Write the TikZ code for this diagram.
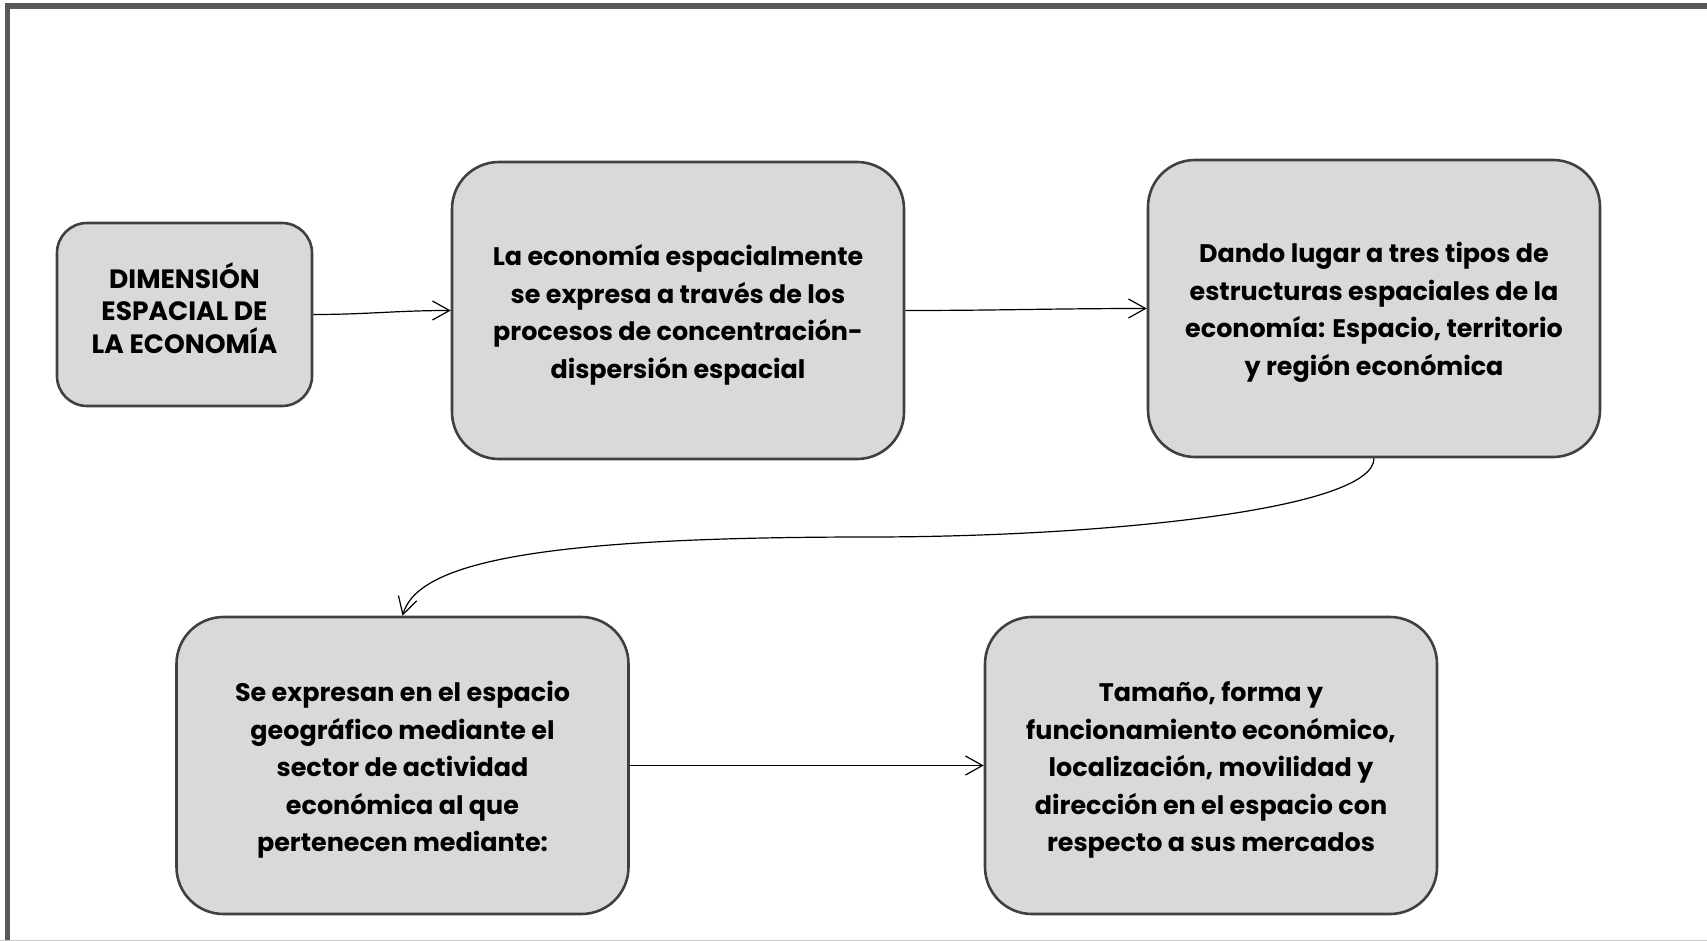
\documentclass[tikz,border=0pt]{standalone}
\usepackage{fontspec}
\setmainfont{Poppins}
\usetikzlibrary{arrows.meta}
\definecolor{boxfill}{HTML}{D9D9D9}
\definecolor{boxline}{HTML}{404040}
\definecolor{framecol}{HTML}{595959}
\definecolor{framelight}{HTML}{C8C8C8}
\tikzset{
  box/.style={draw=boxline, fill=boxfill, line width=2.6pt, rounded corners=47pt,
    minimum width=452pt, minimum height=297pt, inner sep=0pt},
  smallbox/.style={box, rounded corners=30pt, minimum width=255pt, minimum height=183pt},
  bigtext/.style={align=center, inner sep=0pt, font=\bfseries\fontsize{25.4}{37.5}\selectfont},
  smalltext/.style={align=center, inner sep=0pt, font=\bfseries\fontsize{26.5}{32.5}\selectfont},
  conn/.style={draw=black, line width=1.2pt, -{Straight Barb[length=17pt,width=19pt,line width=1.2pt]}}
}
\begin{document}
\begin{tikzpicture}[x=1pt,y=-1pt]
\useasboundingbox (0,0) rectangle (1707,941);
% frame
\draw[line width=5.5pt, framecol] (7.5,941) -- (7.5,6.2) -- (1707,6.2);
\draw[line width=1pt, framelight] (0,940) -- (1707,940);
% boxes
\node[smallbox] (b1) at (184.5,314.5) {};
\node[box] (b2) at (678,310.5) {};
\node[box] (b3) at (1374,308.5) {};
\node[box] (b4) at (402.5,765.5) {};
\node[box] (b5) at (1211,765.5) {};
% texts
\node[smalltext] (t1) at (184.5,308) {DIMENSIÓN\\ESPACIAL DE\\LA ECONOMÍA};
\node[bigtext] (t2) at (678,315) {La economía espacialmente\\se expresa a través de los\\procesos de concentración-\\dispersión espacial};
\node[bigtext] (t3) at (1374,312.5) {Dando lugar a tres tipos de\\estructuras espaciales de la\\economía: Espacio, territorio\\y región económica};
\node[bigtext] (t4) at (402.5,770) {Se expresan en el espacio\\geográfico mediante el\\sector de actividad\\económica al que\\pertenecen mediante:};
\node[bigtext] (t5) at (1211,770) {Tamaño, forma y\\funcionamiento económico,\\localización, movilidad y\\dirección en el espacio con\\respecto a sus mercados};
% connectors
\draw[conn] (b1.east) to[out=0,in=180] (b2.west);
\draw[conn] (b2.east) to[out=0,in=180] (b3.west);
\draw[conn] (b3.south) .. controls (1374,510) and (1100,537) .. (869,537)
  .. controls (540,537) and (418,562) .. (b4.north);
\draw[conn] (b4.east) to[out=0,in=180] (b5.west);
\end{tikzpicture}
\end{document}
